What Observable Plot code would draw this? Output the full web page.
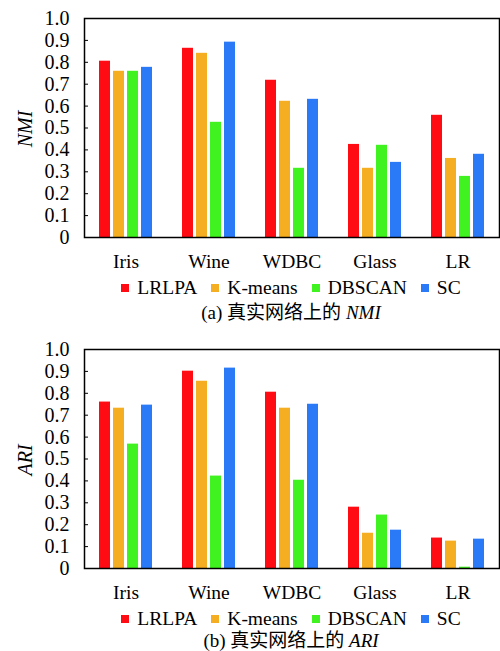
<!DOCTYPE html>
<html><head><meta charset="utf-8">
<script src="https://cdn.jsdelivr.net/npm/d3@7"></script>
<script src="https://cdn.jsdelivr.net/npm/@observablehq/plot@0.6"></script>
<style>
body{margin:0;background:#fff;font-family:"Liberation Serif","Noto Sans CJK SC",serif;color:#000}
#root{position:relative;width:500px;height:651px;overflow:hidden}
.panel{position:absolute;left:0;width:500px}
.ylab{position:absolute;font-family:"Liberation Serif",serif;font-style:italic;font-size:20px;transform:translate(-50%,-50%) rotate(-90deg);white-space:nowrap}
.legend{position:absolute;left:83px;width:416px;display:flex;justify-content:center;align-items:center;font-family:"Liberation Serif",serif;font-size:19.5px;height:20px;line-height:20px}
.legend .it{display:flex;align-items:center;margin:0 7px}
.legend .sw{width:8px;height:8px;margin-right:8px}
.cap{position:absolute;left:83px;width:416px;text-align:center;font-size:19px;height:20px;line-height:20px;white-space:nowrap}
.cap i{font-family:"Liberation Serif",serif}
</style></head>
<body><div id="root"></div>
<script>
const datasets = ["Iris", "Wine", "WDBC", "Glass", "LR"];
const methods = ["LRLPA", "K-means", "DBSCAN", "SC"];
const colors = ["#ff0b13", "#f5ad21", "#41f221", "#2a7af7"];
const yTicks = [0, 0.1, 0.2, 0.3, 0.4, 0.5, 0.6, 0.7, 0.8, 0.9, 1.0];

// NMI
const nmiLRLPA  = [0.805, 0.864, 0.718, 0.425, 0.558];
const nmiKmeans = [0.759, 0.841, 0.622, 0.316, 0.361];
const nmiDBSCAN = [0.759, 0.526, 0.316, 0.421, 0.279];
const nmiSC     = [0.777, 0.892, 0.631, 0.343, 0.380];

// ARI
const ariLRLPA  = [0.760, 0.901, 0.805, 0.280, 0.139];
const ariKmeans = [0.732, 0.855, 0.732, 0.161, 0.125];
const ariDBSCAN = [0.568, 0.422, 0.403, 0.244, 0.006];
const ariSC     = [0.746, 0.915, 0.750, 0.175, 0.134];

function toRows(series) {
  const rows = [];
  datasets.forEach((d, i) => methods.forEach((m, j) => rows.push({dataset: d, method: m, value: series[j][i]})));
  return rows;
}

const root = document.getElementById("root");

function panel(top, series, metric, letter, capCenter) {
  const div = document.createElement("div");
  div.className = "panel";
  div.style.top = top + "px";
  div.style.height = "320px";
  const rows = toRows(series);
  const plot = Plot.plot({
    width: 500, height: 272,
    marginTop: 18, marginBottom: 35, marginLeft: 83, marginRight: 1,
    style: {fontFamily: '"Liberation Serif", serif', fontSize: "20px", color: "#000", background: "#fff"},
    fx: {domain: datasets, padding: 0, label: null},
    x: {domain: methods, paddingInner: 0.2, paddingOuter: 0.87, axis: null},
    y: {domain: [0, 1], axis: null},
    color: {domain: methods, range: colors},
    marks: [
      Plot.barY(rows, {fx: "dataset", x: "method", y: "value", fill: "method"}),
      Plot.frame({stroke: "#000", strokeWidth: 1.5, facet: "super"}),
      // inward tick marks only
      Plot.axisY({ticks: yTicks, tickSize: -4, fill: "none", label: null}),
      // tick labels only
      Plot.axisY({ticks: yTicks, tickFormat: d => d === 0 ? "0" : d.toFixed(1), tickSize: 0, tickPadding: 15, label: null, fontSize: 20}),
      Plot.axisFx({anchor: "bottom", tickSize: 0, tickPadding: 17, label: null, fontSize: 19.5})
    ]
  });
  plot.style.position = "absolute";
  plot.style.left = "0px";
  plot.style.top = "0px";
  div.appendChild(plot);

  const yl = document.createElement("div");
  yl.className = "ylab";
  yl.style.left = "25px";
  yl.style.top = "129px";
  yl.textContent = metric;
  div.appendChild(yl);

  const lg = document.createElement("div");
  lg.className = "legend";
  lg.style.top = "278px";
  methods.forEach((m, j) => {
    const it = document.createElement("span");
    it.className = "it";
    const sw = document.createElement("span");
    sw.className = "sw";
    sw.style.background = colors[j];
    it.appendChild(sw);
    it.appendChild(document.createTextNode(m));
    lg.appendChild(it);
  });
  div.appendChild(lg);

  const cap = document.createElement("div");
  cap.className = "cap";
  cap.style.top = (capCenter - 10) + "px";
  cap.innerHTML = "(" + letter + ") 真实网络上的 <i>" + metric + "</i>";
  div.appendChild(cap);

  root.appendChild(div);
}

panel(0, [nmiLRLPA, nmiKmeans, nmiDBSCAN, nmiSC], "NMI", "a", 313);
panel(331, [ariLRLPA, ariKmeans, ariDBSCAN, ariSC], "ARI", "b", 310);
</script></body></html>
